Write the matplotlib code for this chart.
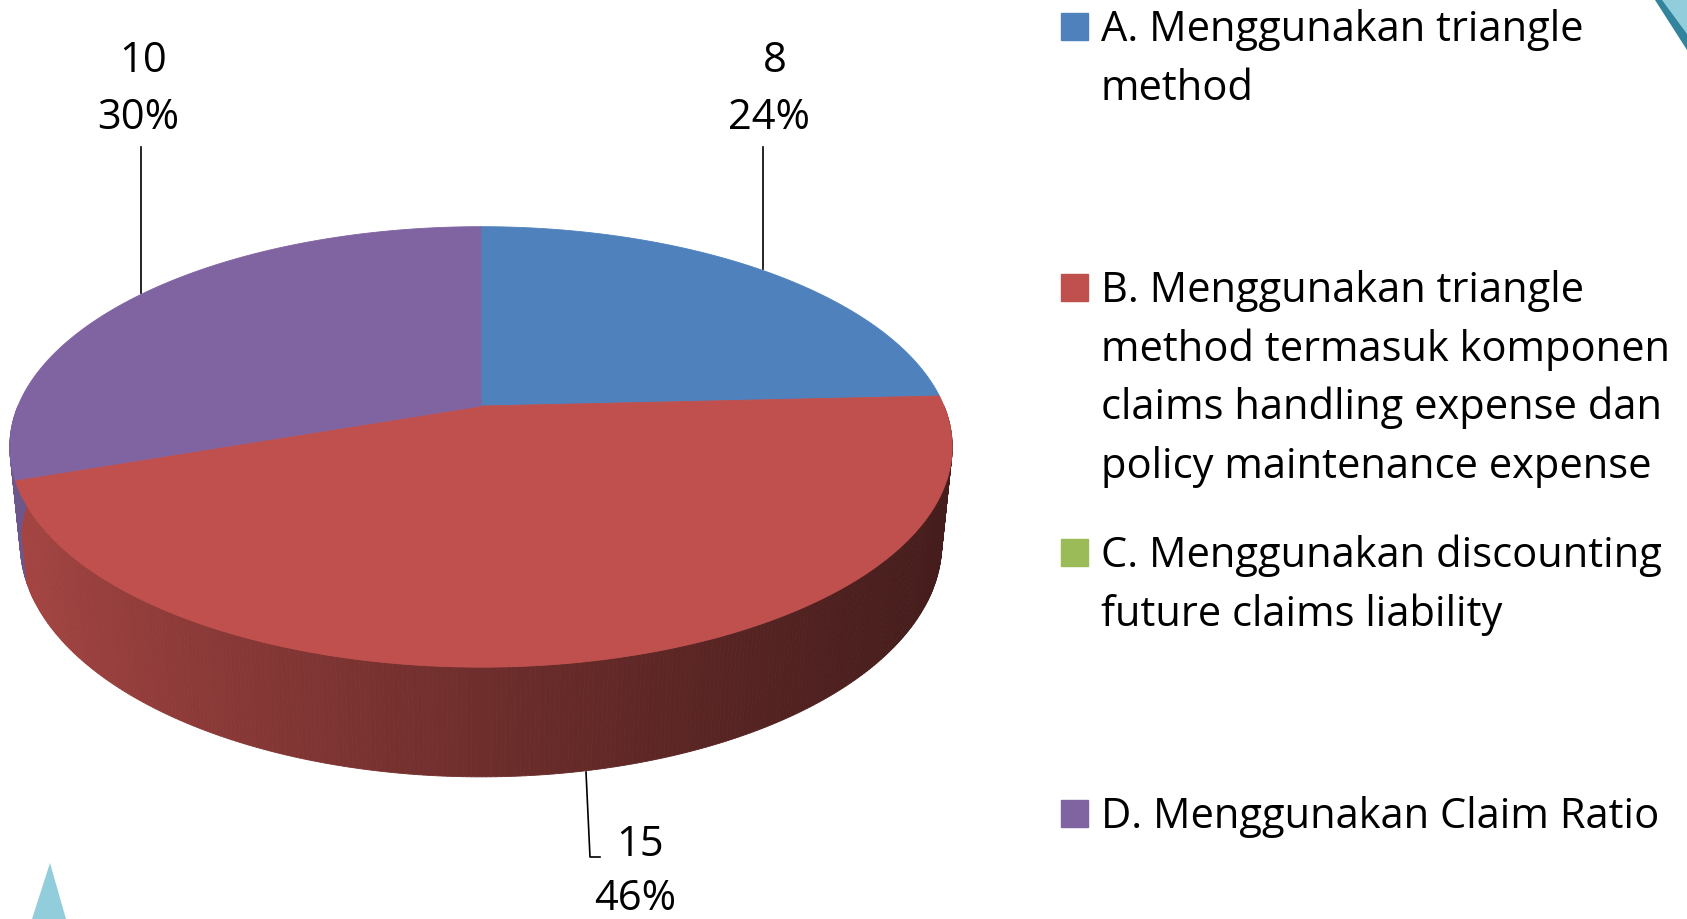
import numpy as np
import matplotlib.pyplot as plt
from matplotlib.patches import Polygon

# data
categories = ["A. Menggunakan triangle\nmethod",
              "B. Menggunakan triangle\nmethod termasuk komponen\nclaims handling expense dan\npolicy maintenance expense",
              "C. Menggunakan discounting\nfuture claims liability",
              "D. Menggunakan Claim Ratio"]
values = [8, 15, 0, 10]
pct_labels = ["24%", "46%", "0%", "30%"]
colors = ["#4F81BD", "#C0504D", "#9BBB59", "#8064A2"]

W, H = 1687, 919
fig = plt.figure(figsize=(W / 100, H / 100), dpi=100)
ax = fig.add_axes([0, 0, 1, 1])
ax.set_xlim(0, W)
ax.set_ylim(H, 0)
ax.axis('off')
plt.rcParams['font.family'] = ['Open Sans', 'DejaVu Sans']

# perspective pie geometry
cx, cy = 481, 406
D = 4.80
phi = np.radians(26.9)
s, c = np.sin(phi), np.cos(phi)
fx = 463 * D
fy = 470 * D
thick = 0.2325


def project(t, y=0.0):
    X = np.sin(t)
    Z = -np.cos(t)
    dep = D - (y * s + Z * c)
    return cx + fx * X / dep, cy - fy * (y * c - Z * s) / dep


total = sum(values)
edges = np.concatenate([[0], np.cumsum(values)]) / total * 2 * np.pi

# side walls (front half), shaded left to right
for i, v in enumerate(values):
    if v == 0:
        continue
    a0 = max(edges[i], np.pi / 2)
    a1 = min(edges[i + 1], 3 * np.pi / 2)
    if a1 <= a0:
        continue
    base = np.array(plt.matplotlib.colors.to_rgb(colors[i]))
    ts = np.linspace(a0, a1, int((a1 - a0) / np.radians(0.5)) + 2)
    for k in range(len(ts) - 1):
        p1 = project(ts[k]); p2 = project(ts[k + 1])
        p3 = project(ts[k + 1], -thick); p4 = project(ts[k], -thick)
        xn = ((p1[0] + p2[0]) / 2 - (cx - 463)) / (2 * 463)
        fac = 0.86 - 0.5 * np.clip(xn, 0, 1) ** 0.8
        col = np.clip(base * fac, 0, 1)
        ax.add_patch(Polygon([p1, p2, p3, p4], closed=True, facecolor=col,
                             edgecolor=col, linewidth=0.6))

# top faces
for i, v in enumerate(values):
    if v == 0:
        continue
    ts = np.linspace(edges[i], edges[i + 1], 300)
    pts = [(cx, cy)] + [project(t) for t in ts]
    ax.add_patch(Polygon(pts, closed=True, facecolor=colors[i],
                         edgecolor=colors[i], linewidth=0.6))

# data labels with leader lines
lab = dict(fontsize=30, color='black', ha='center', va='center')
ax.plot([763, 763], [147, 269], color='black', lw=1.2)
ax.text(775, 61, str(values[0]), **lab)
ax.text(769, 118, pct_labels[0], **lab)
ax.plot([141, 141], [147, 293], color='black', lw=1.2)
ax.text(143, 61, str(values[3]), **lab)
ax.text(138, 118, pct_labels[3], **lab)
ax.plot([586, 590, 600], [772, 857, 857], color='black', lw=1.2)
ax.text(640, 845, str(values[1]), **lab)
ax.text(635, 899, pct_labels[1], **lab)

# legend
leg_y = [27, 288, 553, 814]
for i, name in enumerate(categories):
    ax.add_patch(plt.Rectangle((1061, leg_y[i] - 14), 27, 27, color=colors[i]))
    for j, line in enumerate(name.split("\n")):
        ax.text(1101, leg_y[i] + 3 + j * 58.5, line, fontsize=30, ha='left', va='center')

# decorative triangles
ax.add_patch(Polygon([(1655, 0), (1687, 0), (1687, 50)], closed=True, facecolor='#31849B', edgecolor='none'))
ax.add_patch(Polygon([(1662, 0), (1687, 0), (1687, 34)], closed=True, facecolor='#92CDDC', edgecolor='none'))
ax.add_patch(Polygon([(50, 863), (66, 919), (32, 919)], closed=True, facecolor='#92CDDC', edgecolor='none'))

fig.savefig('out.png', dpi=100)
